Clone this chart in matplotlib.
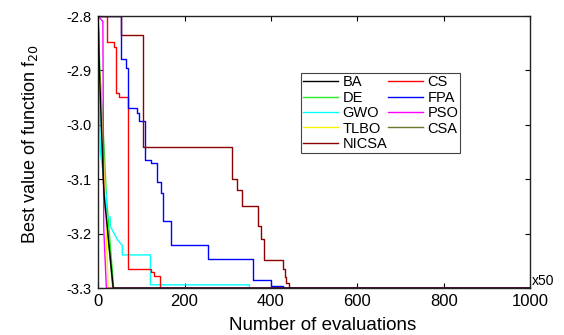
import matplotlib.pyplot as plt

plt.rcParams['font.family'] = ['Liberation Sans', 'DejaVu Sans']

# convergence curves (evaluations / 50, best value)
ba_x = [0, 3, 12, 14, 35, 1000]
ba_y = [-2.8, -2.9, -3.1, -3.13, -3.3, -3.3]

csa_x = [0, 3, 12, 14, 34, 1000]
csa_y = [-2.8, -2.9, -3.1, -3.13, -3.3, -3.3]

de_x = [0, 4, 15, 19, 36, 1000]
de_y = [-2.8, -2.9, -3.06, -3.13, -3.3, -3.3]

tlbo_x = [0, 3, 12, 16, 23, 1000]
tlbo_y = [-2.8, -2.9, -3.05, -3.13, -3.3, -3.3]

pso_x = [0, 11, 12, 13, 19, 1000]
pso_y = [-2.8, -2.81, -3.0, -3.19, -3.3, -3.3]

gwo_x = [0, 2, 5, 19, 19, 28, 28, 44, 56, 56, 121, 121, 350, 350, 1000]
gwo_y = [-2.8, -2.9, -3.05, -3.13, -3.166, -3.17, -3.186, -3.21, -3.222, -3.239, -3.239,
         -3.294, -3.294, -3.3, -3.3]

cs_x = [0, 21, 37, 41, 49, 68, 70, 122, 130, 144, 1000]
cs_y = [-2.8, -2.847, -2.856, -2.941, -2.948, -3.153, -3.264, -3.27, -3.278, -3.3, -3.3]

fpa_x = [0, 52, 64, 68, 91, 95, 108, 122, 137, 146, 149, 169, 254, 358, 401, 428, 1000]
fpa_y = [-2.8, -2.878, -2.896, -2.969, -2.978, -2.993, -3.065, -3.07, -3.105, -3.125,
         -3.176, -3.221, -3.247, -3.285, -3.296, -3.3, -3.3]

nicsa_x = [0, 52, 105, 309, 322, 332, 370, 376, 383, 428, 432, 436, 442, 1000]
nicsa_y = [-2.8, -2.835, -3.04, -3.10, -3.12, -3.15, -3.185, -3.21, -3.249, -3.265,
           -3.28, -3.29, -3.3, -3.3]

yticks = [-2.8, -2.9, -3.0, -3.1, -3.2, -3.3]
xticks = [0, 200, 400, 600, 800, 1000]

fig = plt.figure(figsize=(5.64, 3.35), dpi=100)
ax = fig.add_axes([0.174, 0.140, 0.766, 0.812])

ax.plot(csa_x, csa_y, color='#6b7a2a', lw=1.0, label='CSA', zorder=1)
ax.plot(ba_x, ba_y, color='black', lw=1.0, label='BA', zorder=3)
ax.plot(de_x, de_y, color='#22ee22', lw=1.0, label='DE', zorder=2)
ax.plot(gwo_x, gwo_y, color='cyan', lw=1.0, label='GWO', zorder=2)
ax.plot(tlbo_x, tlbo_y, color='#f5f500', lw=1.0, label='TLBO', zorder=2)
ax.plot(cs_x, cs_y, color='red', lw=1.0, drawstyle='steps-post', label='CS', zorder=2)
ax.plot(fpa_x, fpa_y, color='blue', lw=1.0, drawstyle='steps-post', label='FPA', zorder=2)
ax.plot(pso_x, pso_y, color='magenta', lw=1.0, label='PSO', zorder=2)
ax.plot(nicsa_x, nicsa_y, color='#8b0000', lw=1.0, drawstyle='steps-post', label='NICSA', zorder=2)

ax.set_xlim(0, 1000)
ax.set_ylim(-3.3, -2.8)
ax.set_xticks(xticks)
ax.set_yticks(yticks)
ax.set_yticklabels([f'{v:.1f}' for v in yticks])
ax.tick_params(direction='in', length=3.5, width=0.8,
               top=True, right=True, colors='black')
ax.tick_params(axis='x', labelsize=12, pad=4)
ax.tick_params(axis='y', labelsize=10.5, pad=5)
for s in ax.spines.values():
    s.set_linewidth(1.0)
    s.set_color('#222222')

ax.set_xlabel('Number of evaluations', fontsize=13.5)
ax.xaxis.set_label_coords(0.519, -0.105)
ax.set_ylabel('Best value of function f$_{20}$', fontsize=13)
ax.yaxis.set_label_coords(-0.134, 0.53)
ax.text(1.004, 0.026, 'x50', transform=ax.transAxes, fontsize=10, ha='left', va='center')

handles, labels = ax.get_legend_handles_labels()
order = ['BA', 'DE', 'GWO', 'TLBO', 'NICSA', 'CS', 'FPA', 'PSO', 'CSA']
hmap = dict(zip(labels, handles))
leg = ax.legend([hmap[k] for k in order], order, ncol=2, loc='upper left',
                bbox_to_anchor=(301 / 564, 1 - 73 / 335), bbox_transform=fig.transFigure,
                fontsize=10.5, labelspacing=0.1, handlelength=2.4, handletextpad=0.3,
                columnspacing=0.05, borderpad=0.15, borderaxespad=0, fancybox=False,
                framealpha=1, edgecolor='#444444')
leg.get_frame().set_linewidth(0.8)

fig.savefig('out.png', dpi=100)
